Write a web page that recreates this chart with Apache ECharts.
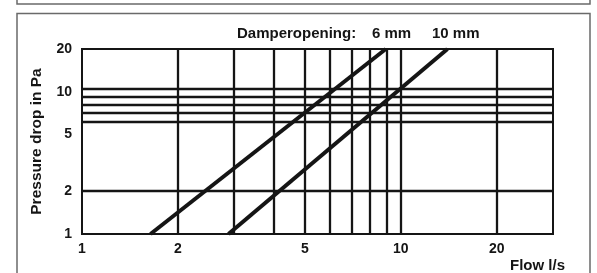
<!DOCTYPE html>
<html lang="en">
<head>
    <meta charset="UTF-8">
    <title>Pressure drop</title>
    <style>
        html, body { margin: 0; padding: 0; background: #fff; }
        #main { width: 597px; height: 273px; }
    </style>
</head>
<body>
<div id="main"></div>
<script src="https://cdn.jsdelivr.net/npm/echarts@6/dist/echarts.min.js"></script>
<script>
    // axis labels
    var flowTicks = [1, 2, 5, 10, 20];
    var pressureTicks = [1, 2, 5, 10, 20];
    // grid lines as drawn in the sheet
    var flowGrid = [2, 3, 4, 5, 6, 7, 8, 9, 10, 20];
    var pressureGrid = [2, 6.2, 7.15, 8.15, 9.3, 10.5];
    // damper curves [flow, pressure]
    var damper6 = [[1.64, 1], [8.97, 20]];
    var damper10 = [[2.88, 1], [14.0, 20]];

    var font = 'Liberation Sans, Arial, sans-serif';
    var ink = '#151515';

    var gridMarks = [];
    flowGrid.forEach(function (v) { gridMarks.push({xAxis: v}); });
    pressureGrid.forEach(function (v) { gridMarks.push({yAxis: v}); });

    var chart = echarts.init(document.getElementById('main'));
    chart.setOption({
        animation: false,
        grid: {left: 82, top: 49, right: 44, bottom: 37, show: true, borderColor: ink, borderWidth: 2},
        xAxis: {
            type: 'log', logBase: 10, min: 1, max: 30,
            name: 'Flow l/s', nameLocation: 'end', nameGap: -43,
            nameTextStyle: {color: ink, fontFamily: font, fontWeight: 'bold', fontSize: 15,
                verticalAlign: 'top', padding: [24, 0, 0, 0]},
            axisLine: {show: false}, axisTick: {show: false}, splitLine: {show: false},
            axisLabel: {customValues: flowTicks, color: ink, fontFamily: font, fontWeight: 'bold',
                fontSize: 14, margin: 8}
        },
        yAxis: {
            type: 'log', logBase: 10, min: 1, max: 20,
            name: 'Pressure drop in Pa', nameLocation: 'middle', nameGap: 37, nameRotate: 90,
            nameTextStyle: {color: ink, fontFamily: font, fontWeight: 'bold', fontSize: 15.5},
            axisLine: {show: false}, axisTick: {show: false}, splitLine: {show: false},
            axisLabel: {customValues: pressureTicks, color: ink, fontFamily: font, fontWeight: 'bold',
                fontSize: 14, margin: 10, padding: [0, 0, 6, 0]}
        },
        series: [
            {
                name: 'grid', type: 'line', data: [], silent: true,
                markLine: {
                    silent: true, symbol: ['none', 'none'], label: {show: false},
                    lineStyle: {color: ink, width: 2.3, type: 'solid'},
                    data: gridMarks
                }
            },
            {
                name: '6 mm', type: 'line', data: damper6, symbol: 'none',
                lineStyle: {color: ink, width: 4}, z: 5
            },
            {
                name: '10 mm', type: 'line', data: damper10, symbol: 'none',
                lineStyle: {color: ink, width: 4}, z: 5
            }
        ],
        graphic: [
            {type: 'rect', shape: {x: 17, y: -10, width: 573, height: 14}, silent: true,
                style: {fill: 'none', stroke: '#6a6a6a', lineWidth: 1.5}},
            {type: 'rect', shape: {x: 17, y: 13.5, width: 573, height: 280}, silent: true,
                style: {fill: 'none', stroke: '#6a6a6a', lineWidth: 1.5}},
            {type: 'text', left: 237, top: 26,
                style: {text: 'Damperopening:', fill: ink, font: 'bold 15px ' + font}},
            {type: 'text', left: 372, top: 26,
                style: {text: '6 mm', fill: ink, font: 'bold 15px ' + font}},
            {type: 'text', left: 432, top: 26,
                style: {text: '10 mm', fill: ink, font: 'bold 15px ' + font}}
        ]
    });
</script>
</body>
</html>
